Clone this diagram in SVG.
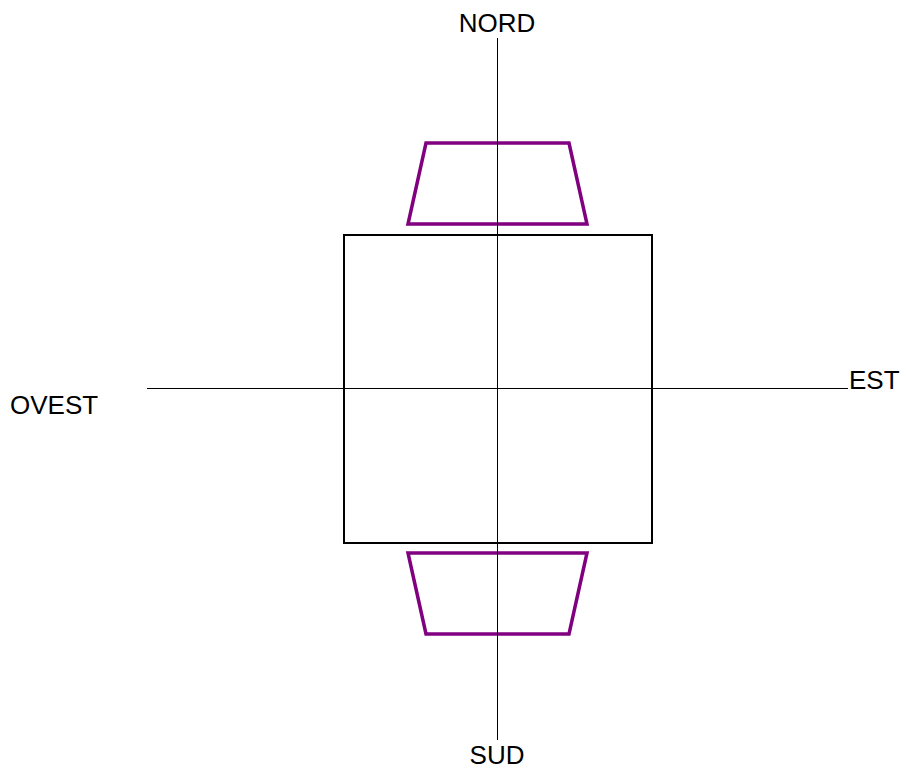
<svg xmlns="http://www.w3.org/2000/svg" width="906" height="769" viewBox="0 0 906 769">
<style>
.lbl{font-family:"Liberation Sans",Arial,sans-serif;font-size:26px;fill:#000}
.axis{stroke:#000;stroke-width:1;fill:none}
.trap{stroke:#800080;stroke-width:3.5;fill:none;stroke-linejoin:miter}
</style>
<rect width="906" height="769" fill="#fff"/>
<g id="square"><rect x="344" y="235" width="308" height="308" fill="none" stroke="#000" stroke-width="2"/></g>
<g id="trap-north"><polygon class="trap" points="426,143 569,143 587,224 408,224"/></g>
<g id="trap-south"><polygon class="trap" points="408,553 587,553 569,634 426,634"/></g>
<g id="connectors">
<line class="axis" x1="497.5" y1="38" x2="497.5" y2="740"/>
<line class="axis" x1="147" y1="388.5" x2="848" y2="388.5"/>
</g>
<g id="labels">
<text class="lbl" x="497" y="32" text-anchor="middle">NORD</text>
<text class="lbl" x="497" y="764" text-anchor="middle">SUD</text>
<text class="lbl" x="10" y="414">OVEST</text>
<text class="lbl" x="849" y="389">EST</text>
</g>
</svg>
